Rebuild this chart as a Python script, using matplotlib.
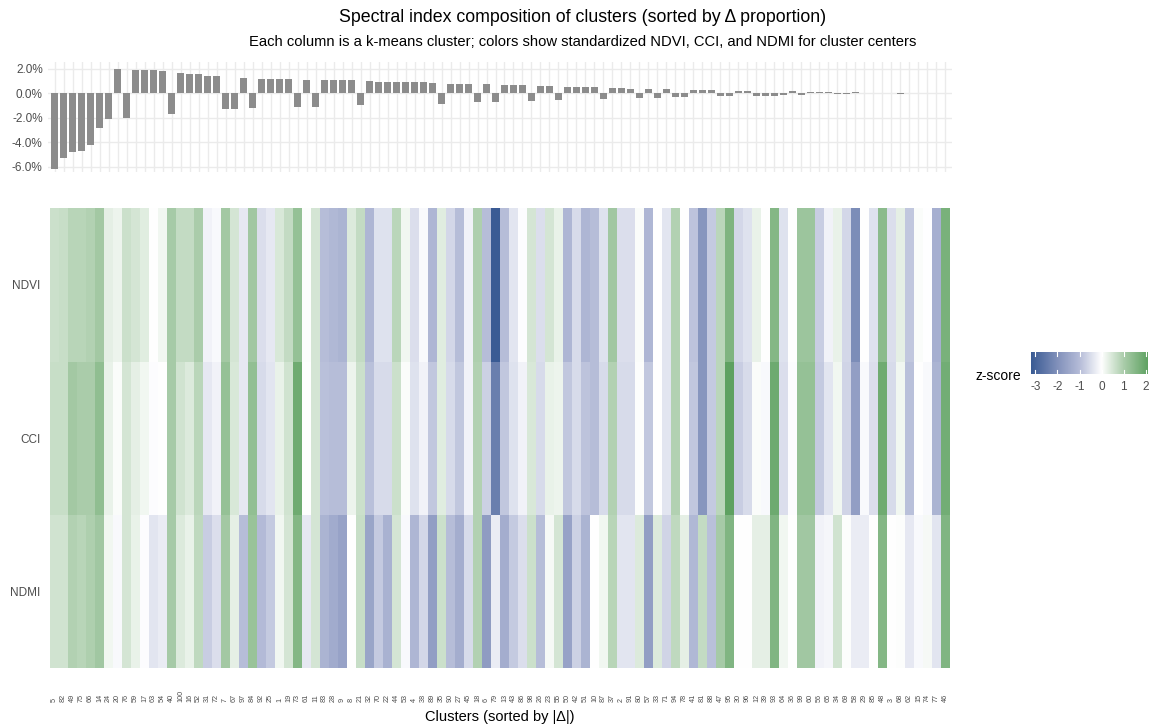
import numpy as np
import matplotlib
matplotlib.use("Agg")
import matplotlib.pyplot as plt
from matplotlib.colors import LinearSegmentedColormap, Normalize

plt.rcParams['font.family'] = ['Liberation Sans', 'DejaVu Sans']

# clusters, sorted by |delta proportion|
clusters = [5, 82, 49, 75, 66, 14, 24, 20, 76, 59, 17, 63, 54, 40, 100, 16, 52, 31, 72, 7,
            67, 97, 84, 92, 25, 1, 19, 73, 61, 11, 83, 28, 9, 8, 21, 32, 70, 22, 44, 53,
            4, 38, 89, 35, 90, 27, 45, 18, 6, 79, 13, 43, 86, 98, 26, 23, 55, 50, 42, 51,
            10, 87, 37, 2, 91, 80, 57, 33, 71, 94, 78, 41, 81, 88, 47, 95, 30, 96, 12, 39,
            93, 64, 36, 99, 60, 56, 65, 34, 69, 58, 29, 85, 48, 3, 68, 62, 15, 74, 77, 46]

# change in proportion (%)
delta = [-6.2, -5.33, -4.78, -4.7, -4.24, -2.87, -2.1, 2.0, -2.0, 1.91,
         1.89, 1.88, 1.8, -1.72, 1.69, 1.56, 1.56, 1.42, 1.42, -1.31,
         -1.31, 1.28, -1.2, 1.17, 1.16, 1.15, 1.14, -1.12, 1.1, -1.1,
         1.07, 1.07, 1.06, 1.06, -0.99, 0.98, 0.97, 0.93, 0.92, 0.91,
         0.9, 0.89, 0.86, -0.84, 0.77, 0.76, 0.75, -0.74, 0.73, -0.69,
         0.68, 0.67, 0.66, -0.64, 0.62, 0.61, -0.58, 0.55, 0.52, 0.5,
         0.49, -0.45, 0.41, 0.40, 0.39, -0.37, 0.36, -0.35, 0.34, -0.31,
         -0.30, 0.29, 0.28, 0.27, -0.25, -0.24, 0.23, 0.22, -0.2, -0.19,
         -0.18, -0.17, 0.16, -0.15, 0.14, 0.13, 0.1, -0.09, -0.08, 0.07,
         0.06, 0.05, 0.05, 0.04, -0.04, 0.03, 0.03, 0.02, -0.01, 0.01]

indices = ["NDVI", "CCI", "NDMI"]

ndvi = [0.6, 0.65, 0.85, 0.85, 0.9, 1.1, 0.3, 0.2, 0.6, 0.5,
        0.35, 0.0, 0.15, 1.05, 0.7, 0.7, 1.0, -0.2, -0.1, 1.1,
        0.5, -0.35, 1.15, -0.5, -0.35, 0.45, 0.7, 1.3, 0.03, 0.5,
        -1.0, -1.1, -1.2, 0.4, 0.7, -1.15, -0.45, -0.45, 0.8, 0.15,
        -0.5, -0.08, -1.15, 0.35, -0.6, -1.0, -0.2, 0.95, -1.0, -3.2,
        -1.0, -0.4, -0.05, 0.5, -0.5, 0.5, 0.25, -1.15, -0.55, -1.15,
        -1.0, -0.45, 1.15, -0.5, -0.5, 0.07, -1.15, 0.0, -0.4, 0.9,
        0.0, -0.9, -1.9, -0.8, 0.8, 1.65, -0.6, -0.45, 0.25, 0.02,
        1.55, -0.45, 0.0, 1.2, 1.2, -0.75, -0.2, 0.25, -0.6, -2.1,
        0.0, -0.45, 1.45, -0.5, 0.3, -0.85, 0.05, -0.02, -1.3, 1.7]

cci = [0.65, 0.65, 1.1, 1.0, 1.0, 1.4, 0.25, 0.05, 0.5, 0.3,
       0.15, -0.05, 0.0, 1.05, 0.55, 0.4, 0.8, -0.35, -0.2, 1.3,
       0.45, -0.35, 1.35, -0.55, -0.4, 0.25, 0.55, 1.85, 0.0, 0.5,
       -0.95, -1.0, -1.0, 0.2, 0.6, -0.95, -0.55, -0.55, 0.6, 0.05,
       -0.45, -0.2, -0.85, 0.35, -0.55, -0.85, -0.2, 0.9, -0.7, -2.4,
       -0.85, -0.45, -0.2, 0.45, -0.55, 0.25, 0.2, -0.85, -0.55, -0.9,
       -1.0, -0.55, 0.9, -0.55, -0.55, 0.03, -0.85, 0.0, -0.4, 0.9,
       0.0, -0.85, -1.9, -0.8, 0.8, 2.1, -0.75, -0.55, 0.05, -0.08,
       1.9, -0.5, -0.05, 1.3, 1.3, -0.8, -0.4, 0.15, -0.65, -1.7,
       -0.1, -0.5, 1.85, -0.55, 0.15, -0.95, 0.0, -0.1, -1.2, 1.8]

ndmi = [0.55, 0.55, 0.9, 0.85, 0.95, 1.15, 0.15, -0.1, 0.5, 0.25,
        -0.05, -0.4, -0.3, 1.05, 0.4, 0.25, 0.75, -0.75, -0.5, 1.1,
        0.3, -1.0, 1.25, -1.05, -0.8, 0.15, 0.5, 1.55, -0.35, 0.5,
        -1.2, -1.4, -1.6, 0.0, 0.65, -1.55, -0.8, -1.25, 0.5, -0.1,
        -1.15, -0.6, -1.7, 0.6, -1.0, -1.35, -0.55, 0.9, -1.75, -0.3,
        -1.35, -0.8, -0.5, 0.6, -1.0, 0.1, 0.5, -1.6, -0.7, -1.2,
        0.0, 0.15, 0.85, -0.4, -0.4, 0.4, -1.7, 0.4, -0.65, 0.75,
        0.3, -1.1, 0.7, -0.95, 1.05, 1.6, 0.0, 0.0, 0.3, 0.3,
        1.6, 0.15, 0.0, 1.15, 1.15, -0.2, -0.15, 0.55, 0.03, -0.3,
        -0.3, 0.0, 1.55, 0.0, 0.03, -0.35, -0.08, 0.12, -0.4, 1.6]

W, H = 1150, 725
fig = plt.figure(figsize=(W / 100, H / 100), dpi=100)

def px_axes(x0, y0, x1, y1):
    return fig.add_axes([x0 / W, 1 - y1 / H, (x1 - x0) / W, (y1 - y0) / H])

grey = "#4d4d4d"
n = len(clusters)
x = np.arange(n)

# colour scale (blue - white - green), symmetric around 0
lim = 3.2
nodes = [(-3.2, "#3a5b94"), (-2.0, "#8291bb"), (-1.0, "#b5bcd8"), (0.0, "#ffffff"),
         (1.0, "#abcdab"), (2.1, "#5fa262"), (3.2, "#237a2a")]
cmap = LinearSegmentedColormap.from_list(
    "zs", [((v + lim) / (2 * lim), c) for v, c in nodes])
norm = Normalize(-lim, lim)

# --- top: bar chart of delta proportion
ax1 = px_axes(48.3, 62, 951.7, 172)
ax1.bar(x, delta, width=0.85, color="#8c8c8c", zorder=2)
ax1.set_xlim(-0.69, n - 1 + 0.69)
ax1.set_ylim(-6.45, 2.57)
ax1.set_xticks(x)
ax1.set_xticklabels([])
ax1.set_yticks([-6, -4, -2, 0, 2])
ax1.set_yticklabels(["%.1f%%" % v for v in [-6, -4, -2, 0, 2]])
ax1.grid(color="#ebebeb", lw=1, zorder=0)
ax1.tick_params(length=0, labelsize=8.5, labelcolor=grey, pad=4)
for s in ax1.spines.values():
    s.set_visible(False)

# --- bottom: heatmap
Z = np.array([ndvi, cci, ndmi])
ax2 = px_axes(50, 208.3, 950, 668.3)
ax2.pcolormesh(np.arange(n + 1) - 0.5, np.arange(4) - 0.5, Z, cmap=cmap, norm=norm)
ax2.set_xlim(-0.5, n - 0.5)
ax2.set_ylim(2.5, -0.5)
ax2.set_xticks(x)
ax2.set_xticklabels([str(c) for c in clusters], rotation=90, fontsize=5.2, color=grey,
                    va="bottom")
ax2.set_yticks([0, 1, 2])
ax2.set_yticklabels(indices, fontsize=8.5, color=grey)
ax2.tick_params(length=0)
ax2.tick_params(axis="x", pad=24)
ax2.tick_params(axis="y", pad=7)
for s in ax2.spines.values():
    s.set_visible(False)
ax2.set_xlabel("Clusters (sorted by |\u0394|)", fontsize=10.5, color="black", va="center")
ax2.xaxis.set_label_coords(0.5, -(717 - 668.3) / 460)

# --- legend colourbar
zmin, zmax = Z.min(), Z.max()
ax3 = px_axes(1031, 352, 1148, 374)
grad = np.linspace(zmin, zmax, 300)[None, :]
ax3.imshow(grad, aspect="auto", cmap=cmap, norm=norm, extent=(zmin, zmax, 0, 1))
cb_ticks = [-3, -2, -1, 0, 1, 2]
for t in cb_ticks:
    ax3.plot([t, t], [0, 0.2], color="white", lw=0.8)
    ax3.plot([t, t], [0.8, 1], color="white", lw=0.8)
ax3.set_xlim(zmin, zmax)
ax3.set_ylim(0, 1)
ax3.set_yticks([])
ax3.set_xticks(cb_ticks)
ax3.set_xticklabels([str(t) for t in cb_ticks])
ax3.tick_params(length=0, labelsize=8.5, labelcolor=grey, pad=5)
for s in ax3.spines.values():
    s.set_visible(False)
fig.text(975 / W, 1 - 376 / H, "z-score", fontsize=10, va="center", ha="left")

# titles
fig.text(0.507, 1 - 18 / H, "Spectral index composition of clusters (sorted by \u0394 proportion)",
         fontsize=12.8, ha="center", va="center")
fig.text(0.507, 1 - 42 / H,
         "Each column is a k-means cluster; colors show standardized NDVI, CCI, and NDMI for cluster centers",
         fontsize=10.6, ha="center", va="center")

fig.savefig("out.png", dpi=100)
